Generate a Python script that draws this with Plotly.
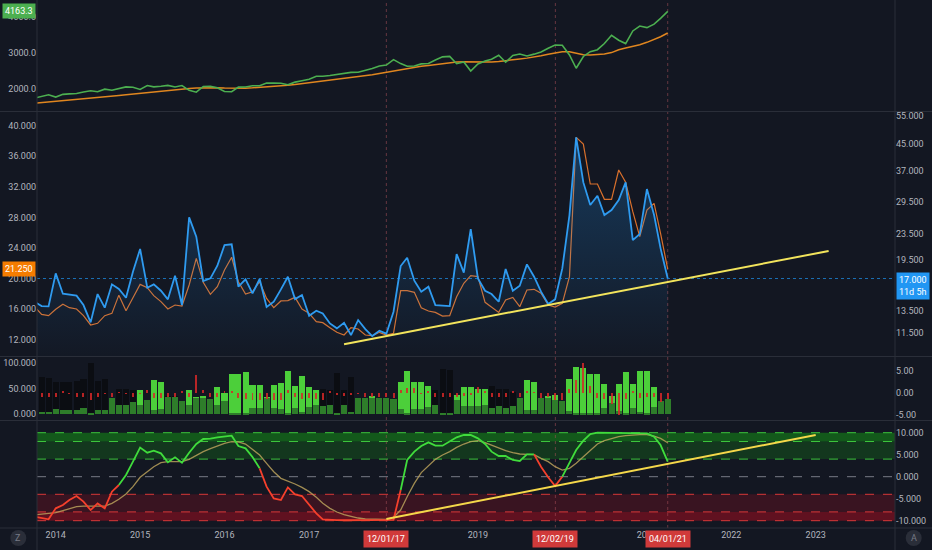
import math
import pandas as pd
import plotly.graph_objects as go

# ---------------- data (monthly bars, Oct 2013 .. Apr 2021) ----------------
months = pd.date_range("2013-10-01", periods=91, freq="MS")

spx_close = [1756.5, 1805.8, 1848.4,
             1782.6, 1859.5, 1872.3, 1883.9, 1923.6, 1960.2, 1930.7, 2003.4, 1972.3, 2018.1, 2067.6, 2058.9,
             1995.0, 2104.5, 2067.9, 2085.5, 2107.4, 2063.1, 2103.8, 1972.2, 1920.0, 2079.4, 2080.4, 2043.9,
             1940.2, 1932.2, 2059.7, 2065.3, 2096.9, 2098.9, 2173.6, 2170.9, 2168.3, 2126.2, 2199.0, 2238.8,
             2278.9, 2363.6, 2362.7, 2384.2, 2411.8, 2423.4, 2470.3, 2471.7, 2519.4, 2575.3, 2647.6, 2673.6,
             2823.8, 2713.8, 2640.9, 2648.1, 2705.3, 2718.4, 2816.3, 2901.5, 2914.0, 2711.7, 2760.2, 2506.9,
             2704.1, 2784.5, 2834.4, 2945.8, 2752.1, 2941.8, 2980.4, 2926.5, 2976.7, 3037.6, 3141.0, 3230.8,
             3225.5, 2954.2, 2584.6, 2912.4, 3044.3, 3100.3, 3271.1, 3500.3, 3363.0, 3270.0, 3621.6, 3756.1,
             3714.2, 3811.2, 3972.9, 4163.3]

spx_avg = [1611, 1628, 1645, 1662, 1680, 1697, 1714, 1731, 1748, 1766,
           1788, 1808, 1828, 1850, 1870, 1890, 1910, 1932, 1955, 1978,
           1995, 2010, 2025, 2038, 2046, 2050, 2046, 2038, 2030, 2028,
           2032, 2040, 2052, 2066, 2082, 2098, 2115, 2135, 2158, 2180,
           2200, 2222, 2245, 2268, 2292, 2318, 2344, 2372, 2402, 2436,
           2470, 2508, 2545, 2580, 2610, 2638, 2662, 2688, 2712, 2735,
           2755, 2768, 2764, 2755, 2750, 2758, 2775, 2792, 2815, 2840,
           2866, 2893, 2930, 2975, 3015, 3042, 3045, 3005, 2962, 2950,
           2962, 2982, 3020, 3100, 3150, 3185, 3240, 3305, 3380, 3460,
           3565]

vix_main = [14.38, 13.94, 13.91, 17.64, 15.24, 15.17, 15.02, 14.04, 12.39, 15.20,
            13.78, 16.30, 15.76, 14.80, 17.86, 21.03, 15.91, 16.30, 15.57, 14.63,
            17.35, 14.04, 26.42, 22.98, 16.69, 17.02, 18.65, 21.64, 21.75, 16.03,
            16.90, 15.27, 16.94, 13.84, 14.38, 15.72, 17.22, 14.66, 15.09, 13.00,
            13.48, 13.22, 12.30, 11.87, 12.36, 11.31, 12.60, 11.81, 11.23, 11.67,
            11.42, 13.38, 18.60, 19.75, 16.73, 15.46, 16.03, 14.04, 13.97, 13.94,
            20.28, 17.73, 24.29, 17.02, 15.57, 15.20, 14.38, 18.20, 15.57, 16.14,
            18.83, 17.22, 15.46, 14.14, 14.63, 18.29, 26.86, 47.03, 34.00, 28.88,
            30.88, 26.86, 27.85, 29.93, 34.00, 22.43, 23.43, 32.40, 26.86, 21.13,
            17.00]

vix_overlay = [16.34, 15.34, 15.17, 16.00, 16.65, 16.21, 16.04, 15.17, 13.95, 14.17,
               15.17, 15.47, 17.85, 15.82, 17.52, 19.26, 18.83, 17.78, 17.00, 16.04,
               16.56, 16.43, 19.18, 22.66, 19.52, 17.96, 18.96, 21.14, 22.80, 19.61,
               18.00, 18.30, 19.61, 17.43, 16.21, 17.09, 17.13, 17.56, 16.04, 15.47,
               14.38, 14.25, 13.60, 12.99, 12.64, 13.60, 13.43, 12.64, 12.55, 12.99,
               12.64, 12.86, 18.44, 18.44, 18.22, 16.21, 15.78, 15.60, 15.12, 15.17,
               17.65, 19.40, 20.40, 20.27, 16.91, 16.26, 15.60, 17.22, 17.56, 16.34,
               18.52, 18.61, 18.09, 16.56, 16.30, 16.78, 20.27, 38.47, 37.60, 32.38,
               32.38, 30.37, 30.37, 34.21, 32.60, 28.76, 25.49, 28.98, 29.85, 25.93,
               21.25]

hist_a = [0, 73, 70, 63, 63, 63, 65, 68, 99, 65,
          68, 0, 50, 50, 48, 47, 0, 66, 62, 36,
          36, 0, 48, 34, 35, 0, 52, 41, 79, 79,
          81, 57, 57, 34, 57, 60, 84, 55, 75, 52,
          48, 50, 48, 80, 47, 73, 0, 0, 35, 0,
          0, 0, 62, 83, 62, 63, 55, 48, 87, 86,
          37, 52, 52, 50, 50, 54, 50, 50, 44, 0,
          66, 63, 0, 36, 37, 0, 68, 92, 90, 79,
          79, 58, 36, 58, 81, 58, 83, 84, 52, 0,
          0]
hist_a_up = [0, 0, 0, 0, 0, 0, 0, 0, 0, 0,
             0, 0, 0, 0, 0, 1, 0, 1, 1, 0,
             0, 0, 1, 1, 1, 0, 1, 1, 1, 1,
             1, 1, 1, 1, 1, 1, 1, 1, 1, 1,
             1, 0, 0, 0, 0, 0, 0, 0, 1, 0,
             0, 0, 1, 1, 1, 1, 1, 0, 0, 0,
             1, 1, 1, 1, 1, 0, 0, 0, 0, 0,
             1, 1, 0, 1, 1, 0, 1, 1, 1, 1,
             1, 1, 1, 1, 1, 1, 1, 1, 1, 0,
             0]
hist_b = [31, 5, 4, 10, 9, 9, 9, 12, 1, 9,
          9, 31, 18, 18, 23, 18, 28, 8, 10, 34,
          34, 25, 18, 31, 31, 29, 18, 25, 2, 2,
          2, 13, 13, 31, 12, 10, 2, 13, 5, 15,
          18, 16, 18, 3, 19, 5, 31, 31, 31, 31,
          31, 30, 10, 2, 10, 10, 15, 18, 2, 2,
          28, 17, 17, 17, 18, 13, 16, 13, 16, 31,
          8, 8, 32, 31, 28, 25, 6, 2, 1, 2,
          3, 13, 21, 6, 2, 12, 5, 2, 15, 25,
          30]
hist_red = [-1.0, -1.1, -1.0, -1.1, 0.5, -0.3, -1.1, -1.0, -1.6, -1.0,
            -0.3, -1.1, 0.2, -0.3, -1.0, -0.4, 0.6, -1.2, -1.2, -1.1,
            -1.0, 0.3, -1.0, 4.1, 0.6, -1.0, -1.1, 0.3, 0.5, -1.2,
            -1.5, -1.6, -1.6, -1.4, -1.6, -1.6, 0.6, -1.0, -1.5, -1.2,
            -1.4, -1.6, 0.3, -0.6, -0.8, -0.5, -0.3, -0.9, -1.0, -1.0,
            -1.0, -1.2, 0.6, 1.0, 1.2, -0.4, 0.3, -1.0, -1.0, -1.1,
            -1.1, -0.7, -0.6, 1.4, 0.3, -1.0, -1.1, -1.0, 0.3, -1.1,
            0.3, 0.2, -1.2, -1.1, -1.6, -1.7, 0.9, 2.9, 6.8, 1.6,
            -1.3, -1.5, -2.5, -5.2, -1.5, 0.5, -1.3, -1.1, -1.0, -2.1,
            -1.5]

osc_fast = [-9.08, -9.39, -9.69, -7.19, -6.43, -5.30, -4.39, -5.67, -7.58, -6.07,
            -7.19, -3.40, -1.89, 0.39, 3.42, 6.61, 5.46, 5.92, 5.31, 3.27,
            4.40, 3.19, 5.46, 7.43, 8.57, 8.64, 8.95, 9.10, 9.33, 6.98,
            6.45, 4.48, 1.90, -2.27, -4.92, -5.30, -2.42, -4.01, -4.39, -6.43,
            -8.33, -9.69, -9.84, -9.88, -9.90, -9.90, -9.90, -9.90, -9.90, -9.90,
            -9.90, -9.80, -3.02, 3.80, 5.69, 6.98, 7.81, 7.05, 7.05, 7.96,
            8.95, 9.48, 9.48, 8.72, 7.43, 5.69, 4.70, 4.70, 3.80, 3.57,
            5.08, 5.08, 2.28, -0.14, -2.11, 0.01, 3.04, 6.07, 8.19, 9.70,
            10.0, 10.0, 10.0, 10.0, 10.0, 10.0, 10.0, 9.86, 9.10, 7.20,
            3.42]
osc_slow = [-8.70, -8.55, -8.48, -8.17, -7.72, -7.27, -6.81, -6.67, -6.67, -6.67,
            -6.67, -6.05, -5.14, -3.93, -2.27, -0.14, 1.14, 2.28, 3.19, 3.42,
            3.42, 3.42, 3.95, 4.93, 5.69, 6.37, 6.98, 7.58, 7.96, 7.89,
            7.43, 6.22, 4.93, 3.04, 1.14, -0.37, -0.98, -1.66, -2.42, -3.40,
            -4.69, -6.05, -7.19, -8.02, -8.63, -9.08, -9.39, -9.61, -9.69, -9.69,
            -9.69, -9.23, -7.58, -4.55, -1.52, 0.92, 2.43, 3.95, 4.93, 5.69,
            6.67, 7.43, 7.96, 8.19, 7.73, 7.13, 6.52, 5.92, 5.46, 5.16,
            5.08, 5.01, 4.17, 3.42, 2.28, 1.52, 1.90, 3.04, 4.55, 6.07,
            7.43, 8.19, 8.72, 9.10, 9.33, 9.48, 9.55, 9.55, 9.24, 8.72,
            7.73]
# colour state of the fast line: (first bar, last bar, state)
osc_segments = [(0, 12, "down"), (12, 32, "up"), (32, 52, "down"),
                (52, 71, "up"), (71, 75, "down"), (75, 90, "up")]

# drawn trend lines (date, value)
trend_mid_dates = ["2017-06-01", "2023-02-26"]
trend_mid_vals = [10.58, 20.73]
trend_osc_dates = ["2017-12-01", "2023-01-01"]
trend_osc_vals = [-9.6, 9.48]

marker_dates = ["2017-12-01", "2019-12-02", "2021-04-01"]
marker_labels = ["12/01/17", "12/02/19", "04/01/21"]
# 2018 and 2020 sit under the date boxes in the reference
year_list = [2014, 2015, 2016, 2017, 2019, 2021, 2022, 2023]
year_ticks = [f"{y}-01-01" for y in year_list]
year_labels = [str(y) for y in year_list]

spx_ticks = [2000, 3000, 4000]
vix_left_ticks = [12, 16, 20, 24, 28, 32, 36, 40]
vix_right_ticks = [11.5, 13.5, 19.5, 23.5, 29.5, 37.0, 45.0, 55.0]
hist_left_ticks = [0, 50, 100]
hist_right_ticks = [5, 0, -5]
osc_ticks = [10, 5, 0, -5, -10]
osc_levels_up = [10, 8, 4]
osc_levels_dn = [-4, -8, -10]

# ---------------- styling / geometry ----------------
BG = "#131722"
GRID = "#2a2e39"
TXT = "#b2b5be"
FONT = "Roboto, 'Noto Sans', sans-serif"
W, H = 932, 550
ML, MR, MT, MB = 37, 37, 0, 22
PH = H - MT - MB
PW = W - ML - MR


def dom(top_px, bot_px):
    return [(PH - bot_px) / PH, (PH - top_px) / PH]


def py(px):
    return (PH - px) / PH


def px_x(px):
    return (px - ML) / PW


XR = ["2013-10-12", "2023-12-10"]
tickfont = dict(family=FONT, size=9, color=TXT)

fig = go.Figure()

# --- top pane: index + average
fig.add_trace(go.Scatter(x=months, y=spx_avg, mode="lines", line=dict(color="#e0861f", width=1.5),
                         xaxis="x", yaxis="y", hoverinfo="skip"))
fig.add_trace(go.Scatter(x=months, y=spx_close, mode="lines", line=dict(color="#4caf50", width=1.6),
                         xaxis="x", yaxis="y", hoverinfo="skip"))

# --- middle pane
base = [9.0] * len(months)
fig.add_trace(go.Scatter(x=months, y=base, mode="lines", line=dict(width=0), xaxis="x", yaxis="y3",
                         hoverinfo="skip"))
fig.add_trace(go.Scatter(x=months, y=vix_main, mode="lines", line=dict(color="#2f9bf0", width=1.8),
                         fill="tonexty",
                         fillgradient=dict(type="vertical",
                                           colorscale=[[0, "rgba(33,150,243,0.0)"],
                                                       [1, "rgba(33,150,243,0.28)"]]),
                         xaxis="x", yaxis="y3", hoverinfo="skip"))
fig.add_trace(go.Scatter(x=months, y=vix_overlay, mode="lines", line=dict(color="#d9702c", width=1.2),
                         xaxis="x", yaxis="y2", hoverinfo="skip"))
fig.add_trace(go.Scatter(x=[XR[0], XR[1]], y=[vix_main[-1], vix_main[-1]], mode="lines",
                         line=dict(color="rgba(33,150,243,0.7)", width=1, dash="dot"),
                         xaxis="x", yaxis="y3", hoverinfo="skip"))
fig.add_trace(go.Scatter(x=trend_mid_dates, y=trend_mid_vals, mode="lines",
                         line=dict(color="#f2e45c", width=2), xaxis="x", yaxis="y3", hoverinfo="skip"))

# --- histogram pane
bar_w = 0.86 * 30.44 * 86400000
fig.add_trace(go.Bar(x=months, y=hist_a, width=bar_w,
                     marker=dict(color=["#4ccf3a" if u else "#0b0d12" for u in hist_a_up], line=dict(width=0)),
                     xaxis="x", yaxis="y4", hoverinfo="skip"))
fig.add_trace(go.Bar(x=months, y=hist_b, width=bar_w,
                     marker=dict(color="#2e7d2a", line=dict(width=0)),
                     xaxis="x", yaxis="y4", hoverinfo="skip"))
fig.add_trace(go.Bar(x=months, y=hist_red, width=0.28 * 30.44 * 86400000,
                     marker=dict(color="rgba(214,40,40,0.85)", line=dict(width=0)),
                     xaxis="x", yaxis="y5", hoverinfo="skip"))

# --- oscillator pane
fig.add_trace(go.Scatter(x=months, y=osc_slow, mode="lines", line=dict(color="rgba(184,160,90,0.85)", width=1.3),
                         xaxis="x", yaxis="y6", hoverinfo="skip"))
for a, b, state in osc_segments:
    fig.add_trace(go.Scatter(x=months[a:b + 1], y=osc_fast[a:b + 1], mode="lines",
                             line=dict(color="#40dc3c" if state == "up" else "#f5402c", width=1.8),
                             xaxis="x", yaxis="y6", hoverinfo="skip"))
fig.add_trace(go.Scatter(x=trend_osc_dates, y=trend_osc_vals, mode="lines",
                         line=dict(color="#f5d84a", width=2), xaxis="x", yaxis="y6", hoverinfo="skip"))

# ---------------- shapes ----------------
shapes = []
bands = [(8, 10, "rgba(20,170,20,0.45)"), (4, 8, "rgba(20,150,20,0.25)"),
         (-8, -4, "rgba(170,10,30,0.25)"), (-10, -8, "rgba(190,10,30,0.45)")]
for y0, y1, c in bands:
    shapes.append(dict(type="rect", xref="paper", yref="y6", x0=0, x1=1, y0=y0, y1=y1,
                       fillcolor=c, line=dict(width=0), layer="below"))
for lv in osc_levels_up:
    shapes.append(dict(type="line", xref="paper", yref="y6", x0=0, x1=1, y0=lv, y1=lv,
                       line=dict(color="#3cc43c", width=1, dash="dash"), layer="below"))
for lv in osc_levels_dn:
    shapes.append(dict(type="line", xref="paper", yref="y6", x0=0, x1=1, y0=lv, y1=lv,
                       line=dict(color="#d83838", width=1, dash="dash"), layer="below"))
shapes.append(dict(type="line", xref="paper", yref="y6", x0=0, x1=1, y0=0, y1=0,
                   line=dict(color="#787b86", width=1, dash="dash"), layer="below"))
for d in marker_dates:
    shapes.append(dict(type="line", xref="x", yref="paper", x0=d, x1=d, y0=0, y1=1,
                       line=dict(color="rgba(170,80,90,0.55)", width=1, dash="dot"), layer="below"))
for ypx in [111.5, 356.5, 420.5, 528]:
    shapes.append(dict(type="line", xref="paper", yref="paper", x0=px_x(0), x1=px_x(W), y0=py(ypx), y1=py(ypx),
                       line=dict(color=GRID, width=1)))
for xpx in [ML, W - MR]:
    shapes.append(dict(type="line", xref="paper", yref="paper", x0=px_x(xpx), x1=px_x(xpx), y0=py(H), y1=1,
                       line=dict(color=GRID, width=1)))
for cx in [18.3, 913.7]:
    shapes.append(dict(type="circle", xref="paper", yref="paper", x0=px_x(cx - 8), x1=px_x(cx + 8),
                       y0=py(546), y1=py(530), fillcolor="#2a2e39", line=dict(width=0)))

# ---------------- annotations ----------------
ann = []
ann.append(dict(xref="paper", yref="y", x=0, y=spx_close[-1], xanchor="right", yanchor="middle", xshift=-1,
                text=f"{spx_close[-1]:.1f}", showarrow=False, bgcolor="#4caf50", borderpad=2,
                font=dict(family=FONT, size=9, color="white")))
ann.append(dict(xref="paper", yref="y2", x=0, y=vix_overlay[-1], xanchor="right", yanchor="middle", xshift=-1,
                text=f"{vix_overlay[-1]:.3f}", showarrow=False, bgcolor="#f57c00", borderpad=2,
                font=dict(family=FONT, size=9, color="white")))
ann.append(dict(xref="paper", yref="y3", x=1, y=math.log10(vix_main[-1]), xanchor="left", yanchor="top",
                yshift=7, xshift=1, text=f"{vix_main[-1]:.3f}<br>11d 5h", showarrow=False, bgcolor="#2196f3",
                borderpad=2, align="left", font=dict(family=FONT, size=9, color="white")))
for d, lab in zip(marker_dates, marker_labels):
    ann.append(dict(xref="x", yref="paper", x=d, y=py(538.5), xanchor="center", yanchor="middle",
                    text=lab, showarrow=False, bgcolor="#d03a3a", borderpad=3,
                    font=dict(family=FONT, size=9, color="white")))
for cx, letter in [(18.3, "Z"), (913.7, "A")]:
    ann.append(dict(xref="paper", yref="paper", x=px_x(cx), y=py(538), xanchor="center", yanchor="middle",
                    text=letter, showarrow=False, font=dict(family=FONT, size=9, color="#787b86")))

axis_common = dict(showgrid=False, zeroline=False, showline=False, ticks="", tickfont=tickfont, fixedrange=True)

fig.update_layout(
    width=W, height=H, margin=dict(l=ML, r=MR, t=MT, b=MB),
    paper_bgcolor=BG, plot_bgcolor=BG, showlegend=False, barmode="overlay", bargap=0,
    shapes=shapes, annotations=ann,
    xaxis=dict(type="date", range=XR, anchor="y6", tickvals=year_ticks, ticktext=year_labels,
               **axis_common),
    yaxis=dict(domain=dom(0, 111), range=[1397, 4481], side="left", anchor="x",
               tickvals=spx_ticks, ticktext=[f"{v:.1f}" for v in spx_ticks], **axis_common),
    yaxis2=dict(domain=dom(112, 356), range=[9.895, 41.79], side="left", anchor="x",
                tickvals=vix_left_ticks, ticktext=[f"{v:.3f}" for v in vix_left_ticks], **axis_common),
    yaxis3=dict(domain=dom(112, 356), type="log", range=[math.log10(9.724), math.log10(56.48)],
                side="right", overlaying="y2", anchor="x",
                tickvals=vix_right_ticks, ticktext=[f"{v:.3f}" for v in vix_right_ticks], **axis_common),
    yaxis4=dict(domain=dom(357, 420), range=[-11, 111], side="left", anchor="x",
                tickvals=hist_left_ticks, ticktext=[f"{v:.3f}" for v in hist_left_ticks], **axis_common),
    yaxis5=dict(domain=dom(357, 420), range=[-6.3, 8.24], side="right", overlaying="y4", anchor="x",
                tickvals=hist_right_ticks, ticktext=[f"{v:.2f}" for v in hist_right_ticks], **axis_common),
    yaxis6=dict(domain=dom(421, 528), range=[-11.66, 12.66], side="right", anchor="x",
                tickvals=osc_ticks, ticktext=[f"{v:.3f}" for v in osc_ticks], **axis_common),
)

fig.write_html("out.html", config={"displayModeBar": False},
               post_script="document.body.style.margin='0';document.body.style.overflow='hidden';"
                           "document.documentElement.style.background='#131722';")
